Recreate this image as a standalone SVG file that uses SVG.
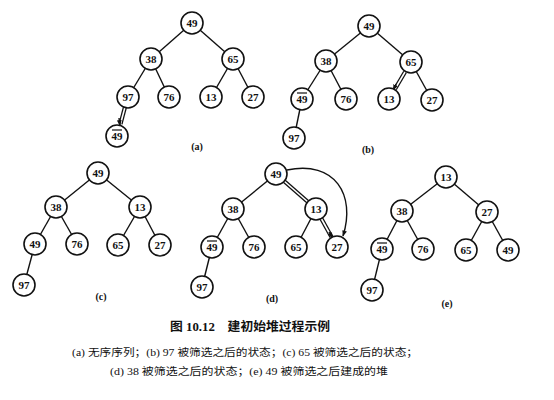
<svg xmlns="http://www.w3.org/2000/svg" width="554" height="400" viewBox="0 0 554 400">
<style>
.e{stroke:#111;stroke-width:1.4;fill:none}
.d{stroke:#111;stroke-width:4.2;fill:none}
.dw{stroke:#fff;stroke-width:1.6;fill:none}
.n circle{fill:#fff;stroke:#111;stroke-width:1.6}
.n text{font-family:"Liberation Serif",serif;font-weight:bold;font-size:11px;text-anchor:middle;fill:#111}
.ol{stroke:#111;stroke-width:1.2}
.lb{font-family:"Liberation Serif",serif;font-weight:bold;font-size:10px;text-anchor:middle;fill:#111}
.cap{font-family:"Liberation Serif","Noto Sans CJK SC",serif;fill:#111}
</style>
<defs>
<marker id="ah" viewBox="0 0 10 10" refX="9" refY="5" markerWidth="6" markerHeight="6" markerUnits="userSpaceOnUse" orient="auto">
<path d="M0,1 L10,5 L0,9 z" fill="#111"/>
</marker>
</defs>
<rect width="554" height="400" fill="#fff"/>
<g id="connectors">
<line class="e" x1="192" y1="23" x2="151" y2="59"/>
<line class="e" x1="192" y1="23" x2="233" y2="59"/>
<line class="e" x1="151" y1="59" x2="128" y2="97"/>
<line class="e" x1="151" y1="59" x2="169" y2="97"/>
<line class="e" x1="233" y1="59" x2="211" y2="97"/>
<line class="e" x1="233" y1="59" x2="253" y2="97"/>
<line class="d" x1="125" y1="107" x2="120.5" y2="124"/>
<line class="dw" x1="125" y1="107" x2="120.5" y2="124"/>
<line class="e" x1="119" y1="118" x2="120" y2="125.5" marker-end="url(#ah)"/>
<line class="e" x1="369" y1="26" x2="326" y2="61"/>
<line class="e" x1="369" y1="26" x2="411" y2="62"/>
<line class="e" x1="326" y1="61" x2="302" y2="99"/>
<line class="e" x1="326" y1="61" x2="346" y2="99"/>
<line class="e" x1="411" y1="62" x2="432" y2="100"/>
<line class="e" x1="302" y1="99" x2="294" y2="138"/>
<line class="d" x1="405" y1="72" x2="395" y2="89"/>
<line class="dw" x1="405" y1="72" x2="395" y2="89"/>
<line class="e" x1="396" y1="84" x2="393.5" y2="90" marker-end="url(#ah)"/>
<line class="e" x1="98" y1="173" x2="56" y2="207"/>
<line class="e" x1="98" y1="173" x2="140" y2="207"/>
<line class="e" x1="56" y1="207" x2="35" y2="244"/>
<line class="e" x1="56" y1="207" x2="77" y2="244"/>
<line class="e" x1="140" y1="207" x2="118" y2="245"/>
<line class="e" x1="140" y1="207" x2="160" y2="245"/>
<line class="e" x1="35" y1="244" x2="24" y2="285"/>
<line class="e" x1="276" y1="174" x2="233" y2="209"/>
<line class="e" x1="233" y1="209" x2="212" y2="247"/>
<line class="e" x1="233" y1="209" x2="254" y2="247"/>
<line class="e" x1="316" y1="209" x2="296" y2="247"/>
<line class="e" x1="212" y1="247" x2="202" y2="287"/>
<line class="d" x1="284" y1="181" x2="308" y2="202"/>
<line class="dw" x1="284" y1="181" x2="308" y2="202"/>
<line class="d" x1="321" y1="218" x2="331.5" y2="237"/>
<line class="dw" x1="321" y1="218" x2="331.5" y2="237"/>
<line class="e" x1="329" y1="232" x2="332.5" y2="238" marker-end="url(#ah)"/>
<path class="e" d="M287,170 C335,160 356,195 343,236" marker-end="url(#ah)"/>
<line class="e" x1="446" y1="177" x2="402" y2="211"/>
<line class="e" x1="446" y1="177" x2="487" y2="212"/>
<line class="e" x1="402" y1="211" x2="382" y2="249"/>
<line class="e" x1="402" y1="211" x2="423" y2="249"/>
<line class="e" x1="487" y1="212" x2="466" y2="250"/>
<line class="e" x1="487" y1="212" x2="508" y2="250"/>
<line class="e" x1="382" y1="249" x2="372" y2="290"/>
</g>
<g id="a49" class="n" transform="translate(192,23)"><circle r="11"/><text y="4">49</text></g>
<g id="a38" class="n" transform="translate(151,59)"><circle r="11"/><text y="4">38</text></g>
<g id="a65" class="n" transform="translate(233,59)"><circle r="11"/><text y="4">65</text></g>
<g id="a97" class="n" transform="translate(128,97)"><circle r="11"/><text y="4">97</text></g>
<g id="a76" class="n" transform="translate(169,97)"><circle r="11"/><text y="4">76</text></g>
<g id="a13" class="n" transform="translate(211,97)"><circle r="11"/><text y="4">13</text></g>
<g id="a27" class="n" transform="translate(253,97)"><circle r="11"/><text y="4">27</text></g>
<g id="a49b" class="n" transform="translate(117,136)"><circle r="11"/><text y="4">49</text><line class="ol" x1="-5" y1="-6" x2="5" y2="-6"/></g>
<text class="lb" x="197" y="150">(a)</text>
<g id="b49" class="n" transform="translate(369,26)"><circle r="11"/><text y="4">49</text></g>
<g id="b38" class="n" transform="translate(326,61)"><circle r="11"/><text y="4">38</text></g>
<g id="b65" class="n" transform="translate(411,62)"><circle r="11"/><text y="4">65</text></g>
<g id="b49b" class="n" transform="translate(302,99)"><circle r="11"/><text y="4">49</text><line class="ol" x1="-5" y1="-6" x2="5" y2="-6"/></g>
<g id="b76" class="n" transform="translate(346,99)"><circle r="11"/><text y="4">76</text></g>
<g id="b13" class="n" transform="translate(389,99)"><circle r="11"/><text y="4">13</text></g>
<g id="b27" class="n" transform="translate(432,100)"><circle r="11"/><text y="4">27</text></g>
<g id="b97" class="n" transform="translate(294,138)"><circle r="11"/><text y="4">97</text></g>
<text class="lb" x="368" y="153">(b)</text>
<g id="c49" class="n" transform="translate(98,173)"><circle r="11"/><text y="4">49</text></g>
<g id="c38" class="n" transform="translate(56,207)"><circle r="11"/><text y="4">38</text></g>
<g id="c13" class="n" transform="translate(140,207)"><circle r="11"/><text y="4">13</text></g>
<g id="c49b" class="n" transform="translate(35,244)"><circle r="11"/><text y="4">49</text></g>
<g id="c76" class="n" transform="translate(77,244)"><circle r="11"/><text y="4">76</text></g>
<g id="c65" class="n" transform="translate(118,245)"><circle r="11"/><text y="4">65</text></g>
<g id="c27" class="n" transform="translate(160,245)"><circle r="11"/><text y="4">27</text></g>
<g id="c97" class="n" transform="translate(24,285)"><circle r="11"/><text y="4">97</text></g>
<text class="lb" x="101" y="300">(c)</text>
<g id="d49" class="n" transform="translate(276,174)"><circle r="11"/><text y="4">49</text></g>
<g id="d38" class="n" transform="translate(233,209)"><circle r="11"/><text y="4">38</text></g>
<g id="d13" class="n" transform="translate(316,209)"><circle r="11"/><text y="4">13</text></g>
<g id="d49b" class="n" transform="translate(212,247)"><circle r="11"/><text y="4">49</text><line class="ol" x1="-5" y1="-6" x2="5" y2="-6"/></g>
<g id="d76" class="n" transform="translate(254,247)"><circle r="11"/><text y="4">76</text></g>
<g id="d65" class="n" transform="translate(296,247)"><circle r="11"/><text y="4">65</text></g>
<g id="d27" class="n" transform="translate(337,247)"><circle r="11"/><text y="4">27</text></g>
<g id="d97" class="n" transform="translate(202,287)"><circle r="11"/><text y="4">97</text></g>
<text class="lb" x="272" y="302">(d)</text>
<g id="e13" class="n" transform="translate(446,177)"><circle r="11"/><text y="4">13</text></g>
<g id="e38" class="n" transform="translate(402,211)"><circle r="11"/><text y="4">38</text></g>
<g id="e27" class="n" transform="translate(487,212)"><circle r="11"/><text y="4">27</text></g>
<g id="e49b" class="n" transform="translate(382,249)"><circle r="11"/><text y="4">49</text><line class="ol" x1="-5" y1="-6" x2="5" y2="-6"/></g>
<g id="e76" class="n" transform="translate(423,249)"><circle r="11"/><text y="4">76</text></g>
<g id="e65" class="n" transform="translate(466,250)"><circle r="11"/><text y="4">65</text></g>
<g id="e49" class="n" transform="translate(508,250)"><circle r="11"/><text y="4">49</text></g>
<g id="e97" class="n" transform="translate(372,290)"><circle r="11"/><text y="4">97</text></g>
<text class="lb" x="447" y="307">(e)</text>
<text class="cap" x="250" y="331" font-size="12.5" font-weight="bold" text-anchor="middle" textLength="160" lengthAdjust="spacingAndGlyphs">图 10.12　建初始堆过程示例</text>
<text class="cap" x="245" y="356" font-size="10" text-anchor="middle" textLength="346" lengthAdjust="spacingAndGlyphs">(a) 无序序列；(b) 97 被筛选之后的状态；(c) 65 被筛选之后的状态；</text>
<text class="cap" x="249" y="375" font-size="10" text-anchor="middle" textLength="278" lengthAdjust="spacingAndGlyphs">(d) 38 被筛选之后的状态；(e) 49 被筛选之后建成的堆</text>
</svg>
